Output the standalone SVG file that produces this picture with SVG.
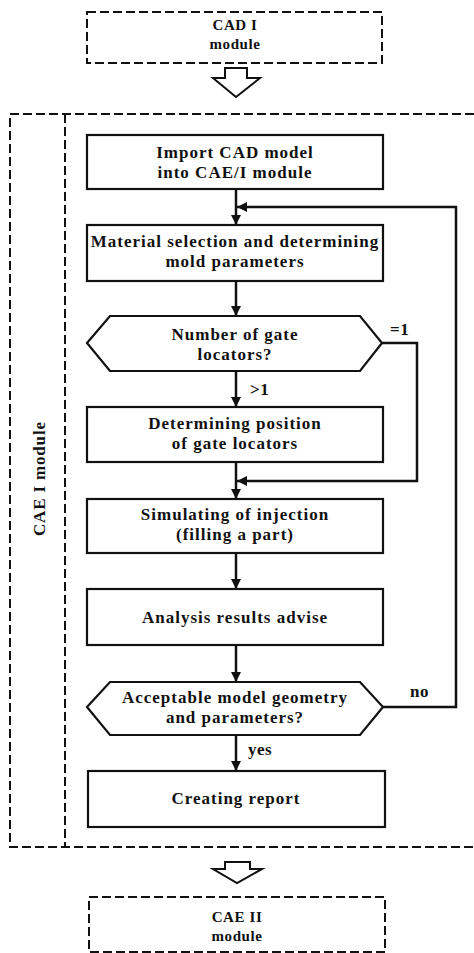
<svg xmlns="http://www.w3.org/2000/svg" width="474" height="953" viewBox="0 0 474 953">
<defs>
<marker id="ah" viewBox="0 0 10 10" refX="10" refY="5" markerWidth="10" markerHeight="10" markerUnits="userSpaceOnUse" orient="auto">
<path d="M0,0 L10,5 L0,10 Z" fill="#111"/>
</marker>
<style>
.box{fill:#fff;stroke:#111;stroke-width:2.2}
.dash{fill:none;stroke:#111;stroke-width:2;stroke-dasharray:9,4}
.con{fill:none;stroke:#111;stroke-width:2.5}
.hol{fill:#fff;stroke:#111;stroke-width:2}
.t{font-size:17px;letter-spacing:1px;text-anchor:middle}
.m{font-size:15px;letter-spacing:0.6px;text-anchor:middle}
.lb{font-size:17px;letter-spacing:0.5px;text-anchor:start}
</style>
</defs>
<g font-family="'Liberation Serif', 'Times New Roman', serif" font-weight="bold" fill="#111">
<g id="cad1">
<rect class="dash" x="87" y="12" width="295" height="51"/>
<text class="m" x="235" y="30">CAD I</text>
<text class="m" x="235" y="49">module</text>
</g>
<g id="arrow-top">
<path class="hol" d="M225,68 L247,68 L247,78 L260,78 L236,97 L213,78 L225,78 Z"/>
</g>
<g id="cae1-frame">
<path class="dash" d="M474,114 L10,114 L10,847 L474,847"/>
<line class="dash" x1="65" y1="114" x2="65" y2="847"/>
<text x="45" y="479" font-size="17" text-anchor="middle" transform="rotate(-90 45 479)" textLength="114">CAE I  module</text>
</g>
<g id="connectors">
<line class="con" x1="236" y1="189" x2="236" y2="225" marker-end="url(#ah)"/>
<polyline class="con" points="383,707 456,707 456,207 237,207" marker-end="url(#ah)"/>
<line class="con" x1="236" y1="281" x2="236" y2="316" marker-end="url(#ah)"/>
<line class="con" x1="236" y1="371" x2="236" y2="407" marker-end="url(#ah)"/>
<polyline class="con" points="382,343 417,343 417,481 237,481" marker-end="url(#ah)"/>
<line class="con" x1="236" y1="462" x2="236" y2="499" marker-end="url(#ah)"/>
<line class="con" x1="236" y1="553" x2="236" y2="589" marker-end="url(#ah)"/>
<line class="con" x1="236" y1="645" x2="236" y2="682" marker-end="url(#ah)"/>
<line class="con" x1="236" y1="735" x2="236" y2="771" marker-end="url(#ah)"/>
<text class="lb" x="390" y="335">=1</text>
<text class="lb" x="250" y="395">&gt;1</text>
<text class="lb" x="410" y="697">no</text>
<text class="lb" x="248" y="755">yes</text>
</g>
<g id="import">
<rect class="box" x="87" y="135" width="296" height="54"/>
<text class="t" x="235" y="158">Import CAD model</text>
<text class="t" x="235" y="178">into CAE/I module</text>
</g>
<g id="material">
<rect class="box" x="87" y="225" width="296" height="56"/>
<text class="t" x="235" y="247">Material selection and determining</text>
<text class="t" x="235" y="267">mold  parameters</text>
</g>
<g id="gate-count">
<polygon class="box" points="87,343 110,316 360,316 382,343 360,371 110,371"/>
<text class="t" x="235" y="340">Number of gate</text>
<text class="t" x="235" y="360">locators?</text>
</g>
<g id="gate-position">
<rect class="box" x="87" y="407" width="296" height="55"/>
<text class="t" x="235" y="429">Determining position</text>
<text class="t" x="235" y="449">of gate locators</text>
</g>
<g id="simulating">
<rect class="box" x="87" y="499" width="296" height="54"/>
<text class="t" x="235" y="520">Simulating of injection</text>
<text class="t" x="235" y="540">(filling a part)</text>
</g>
<g id="analysis">
<rect class="box" x="87" y="589" width="296" height="56"/>
<text class="t" x="235" y="623">Analysis results advise</text>
</g>
<g id="acceptable">
<polygon class="box" points="87,707 110,682 360,682 383,707 360,735 110,735"/>
<text class="t" x="235" y="703">Acceptable model geometry</text>
<text class="t" x="235" y="723">and parameters?</text>
</g>
<g id="report">
<rect class="box" x="88" y="771" width="297" height="56"/>
<text class="t" x="236" y="804">Creating report</text>
</g>
<g id="arrow-bottom">
<path class="hol" d="M225,862 L250,862 L250,869 L262,869 L237,883 L213,869 L225,869 Z"/>
</g>
<g id="cae2">
<rect class="dash" x="89" y="897" width="296" height="55"/>
<text class="m" x="237" y="922">CAE II</text>
<text class="m" x="237" y="941">module</text>
</g>
</g>
</svg>
